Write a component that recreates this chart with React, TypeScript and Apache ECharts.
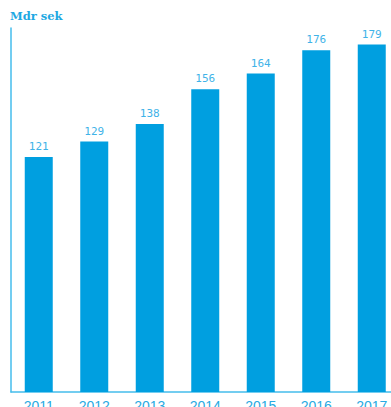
import React, { useEffect, useRef } from "react";
import * as echarts from "echarts";

const years = ["2011", "2012", "2013", "2014", "2015", "2016", "2017"];
const values = [121, 129, 138, 156, 164, 176, 179];
const unitLabel = "Mdr sek";

export default function App() {
  const ref = useRef<HTMLDivElement>(null);
  useEffect(() => {
    if (!ref.current) return;
    const chart = echarts.init(ref.current, null, { renderer: "svg" });
    chart.setOption({
      animation: false,
      backgroundColor: "#ffffff",
      grid: {
        left: 11,
        top: 28,
        bottom: 15,
        width: 388.5,
        containLabel: false,
        outerBoundsMode: "none",
      },
      graphic: [
        {
          type: "text",
          left: 10,
          top: 10,
          style: {
            text: unitLabel,
            fill: "#1ea8e2",
            font: "bold 11.5px 'DejaVu Serif'",
          },
        },
      ],
      xAxis: {
        type: "category",
        data: years,
        axisLine: { lineStyle: { color: "#45bdec", width: 1.5 } },
        axisTick: { show: false },
        axisLabel: {
          color: "#2aaae2",
          fontSize: 14,
          fontFamily: "'Liberation Sans', sans-serif",
          margin: 7,
        },
      },
      yAxis: {
        type: "value",
        min: 0,
        max: 187.5,
        axisLine: { show: true, lineStyle: { color: "#45bdec", width: 1.5 } },
        axisTick: { show: false },
        axisLabel: { show: false },
        splitLine: { show: false },
      },
      series: [
        {
          type: "bar",
          data: values,
          barWidth: 28,
          itemStyle: { color: "#009fe0" },
          label: {
            show: true,
            position: "top",
            distance: 5,
            color: "#3fb3e8",
            fontSize: 11,
            fontFamily: "'DejaVu Sans Mono', monospace",
          },
        },
      ],
    });
    return () => chart.dispose();
  }, []);
  return (
    <div
      ref={ref}
      style={{ position: "fixed", left: 0, top: 0, width: 391, height: 407 }}
    />
  );
}
